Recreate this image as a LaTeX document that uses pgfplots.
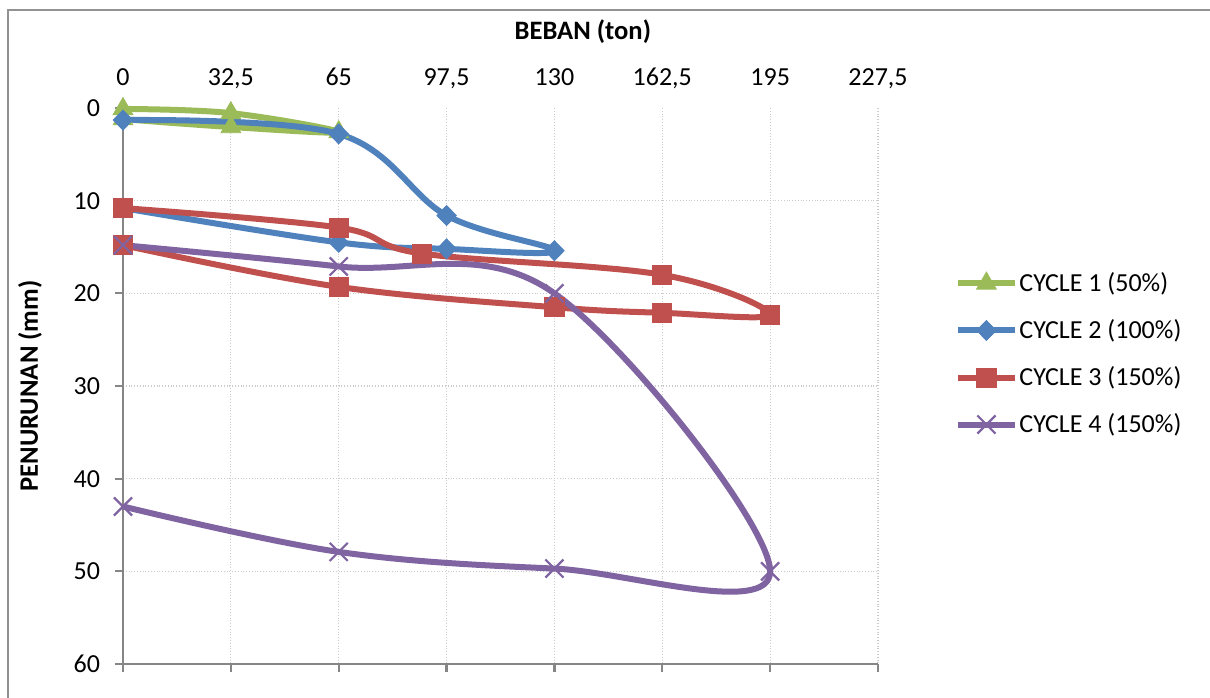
\documentclass[border=0pt]{standalone}
\usepackage{pgfplots}
\pgfplotsset{compat=1.18}
\usepackage{fontspec}
\setmainfont{Carlito}
\definecolor{cgreen}{HTML}{9BBB59}
\definecolor{cblue}{HTML}{4F81BD}
\definecolor{cred}{HTML}{C0504D}
\definecolor{cpurple}{HTML}{8064A2}
\definecolor{axgray}{HTML}{868686}
\begin{document}
\begin{tikzpicture}
\useasboundingbox (0,0) rectangle (605pt,-348.5pt);
\draw[axgray!90, line width=1pt] (4.2pt,-360pt) -- (4.2pt,-5pt) -- (620pt,-5pt);
\begin{axis}[
  at={(61.5pt,-54pt)}, anchor=north west,
  scale only axis, width=377.5pt, height=278pt,
  xmin=0, xmax=227.5, ymin=0, ymax=60, y dir=reverse,
  xtick={0,32.5,65,97.5,130,162.5,195,227.5},
  xticklabels={0,{32,5},65,{97,5},130,{162,5},195,{227,5}},
  ytick={0,10,20,30,40,50,60},
  xtick pos=lower, xticklabel pos=upper,
  ytick pos=left,
  tick align=outside,
  major tick length=4pt,
  tick style={axgray, line width=1.1pt},
  axis line style={draw=none},
  xmajorgrids=true, ymajorgrids=false,
  extra y ticks={10,20,30,40,50},
  extra y tick labels={},
  extra y tick style={ymajorgrids=true, major tick length=0pt},
  grid style={gray!40, densely dotted, line width=0.6pt},
  /pgf/number format/assume math mode=true,
  ticklabel style={font=\fontsize{13}{15}\selectfont},
  xticklabel style={anchor=base, yshift=7.5pt},
  yticklabel style={xshift=-4pt},
  label style={font=\bfseries\fontsize{13.3}{15}\selectfont},
  xlabel={BEBAN (ton)},
  ylabel={PENURUNAN (mm)},
  xlabel style={at={(axis description cs:0.609,1.137)}, anchor=center},
  ylabel style={at={(axis description cs:-0.123,0.5)}, anchor=center},
  legend cell align=left,
  legend style={at={(axis description cs:1.102,0.5576)}, anchor=west, draw=none, fill=none,
    font=\fontsize{13}{15}\selectfont, row sep=10.5pt, inner sep=0pt,
    nodes={inner sep=1pt}},
  legend image code/.code={\draw[mark repeat=2,mark phase=2,#1] plot coordinates {(0pt,0pt) (14pt,0pt) (28pt,0pt)};},
  clip=false,
]
\draw[axgray, line width=1.1pt] (axis cs:0,0) -- (axis cs:0,60) -- (axis cs:227.5,60);
\addplot[cgreen, line width=3pt, smooth, tension=0.6, mark=triangle*, mark size=5.7pt,
  mark options={solid, line width=0.4pt, fill=cgreen}]
  coordinates {(0,0.1) (32.5,0.55) (65,2.6) (32.5,2.05) (0,1.2)};
\addlegendentry{CYCLE 1 (50\%)}
\addplot[cblue, line width=3pt, smooth, tension=0.6, mark=diamond*, mark size=5pt,
  mark options={solid, line width=0.4pt, fill=cblue, xscale=1.3}]
  coordinates {(0,1.3) (65,2.8) (97.5,11.6) (130,15.4) (97.5,15.2) (65,14.5) (0,10.8)};
\addlegendentry{CYCLE 2 (100\%)}
\addplot[cred, line width=3pt, smooth, tension=0.6, mark=square*, mark size=4.8pt,
  mark options={solid, line width=0.4pt, fill=cred}]
  coordinates {(0,10.8) (65,12.9) (90,15.7) (162.5,18.0) (195,22.3) (162.5,22.1) (130,21.5) (65,19.3) (0,14.8)};
\addlegendentry{CYCLE 3 (150\%)}
\addplot[cpurple, line width=3pt, smooth, tension=0.6, mark=x, mark size=6.4pt,
  mark options={solid, line width=1.1pt}]
  coordinates {(0,14.8) (65,17.1) (130,20.0) (195,50.0) (130,49.7) (65,47.9) (0,43.0)};
\addlegendentry{CYCLE 4 (150\%)}
\end{axis}
\end{tikzpicture}
\end{document}
